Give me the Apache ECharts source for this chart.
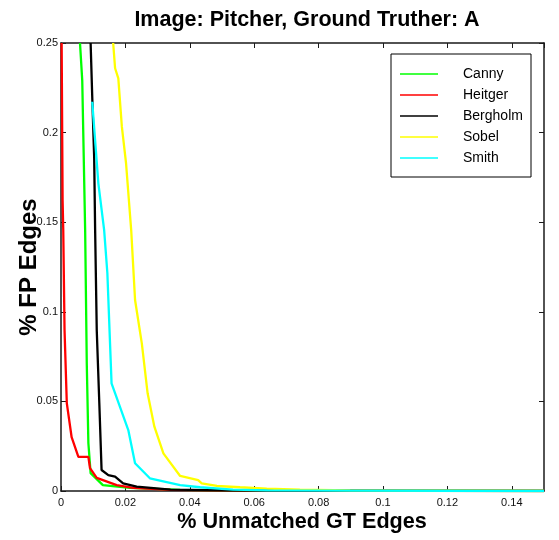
<!DOCTYPE html>
<html>
<head>
<meta charset="utf-8">
<script src="https://cdn.jsdelivr.net/npm/echarts@6/dist/echarts.min.js"></script>
<style>
  html, body { margin: 0; padding: 0; background: #fff; }
  #chart { width: 559px; height: 540px; }
</style>
</head>
<body>
<div id="chart"></div>
<script>
// Detector curves: [% unmatched GT edges, % false-positive edges]
const canny = [
  [0.0059, 0.25], [0.0066, 0.229], [0.0075, 0.1456], [0.0080, 0.0714],
  [0.0085, 0.0268], [0.0092, 0.010], [0.0130, 0.0033], [0.0214, 0.0017],
  [0.037, 0.0006], [0.06, 0.0002], [0.15, 0]
];
const heitger = [
  [0.0002, 0.25], [0.0005, 0.162], [0.0007, 0.1456], [0.0011, 0.0898],
  [0.0018, 0.049], [0.0033, 0.030], [0.0054, 0.019], [0.0085, 0.019],
  [0.0090, 0.0128], [0.0111, 0.0073], [0.0173, 0.0033], [0.0224, 0.0017],
  [0.034, 0.0006], [0.049, 0.0003], [0.15, 0]
];
const bergholm = [
  [0.0092, 0.25], [0.0097, 0.220], [0.0103, 0.1866], [0.0106, 0.1456],
  [0.0111, 0.0898], [0.0119, 0.049], [0.0126, 0.0117], [0.0147, 0.0089],
  [0.0168, 0.0080], [0.0193, 0.0043], [0.0235, 0.0024], [0.034, 0.0008],
  [0.052, 0.0003], [0.15, 0]
];
const sobel = [
  [0.0162, 0.25], [0.0168, 0.2359], [0.0178, 0.2303], [0.0189, 0.2033],
  [0.0202, 0.1829], [0.0218, 0.1456], [0.0230, 0.1066], [0.0251, 0.0824],
  [0.0269, 0.0545], [0.0290, 0.0359], [0.0318, 0.0210], [0.0370, 0.0084],
  [0.0426, 0.0061], [0.0437, 0.0043], [0.0484, 0.0028], [0.0556, 0.0021],
  [0.0639, 0.0013], [0.0742, 0.0008], [0.0898, 0.0004], [0.15, 0]
];
const smith = [
  [0.0097, 0.2172], [0.0116, 0.1717], [0.0134, 0.1456], [0.0144, 0.1215],
  [0.0157, 0.0601], [0.0209, 0.0340], [0.0230, 0.0155], [0.0276, 0.0071],
  [0.037, 0.0033], [0.0432, 0.0021], [0.0534, 0.0008], [0.0639, 0.0004],
  [0.15, 0]
];

const seriesNames = ['Canny', 'Heitger', 'Bergholm', 'Sobel', 'Smith'];
const seriesData = [canny, heitger, bergholm, sobel, smith];
const seriesColors = ['#00ff00', '#ff0000', '#000000', '#ffff00', '#00ffff'];

const titleText = 'Image: Pitcher, Ground Truther: A';
const xTitle = '% Unmatched GT Edges';
const yTitle = '% FP Edges';

const xMin = 0, xMax = 0.15, xStep = 0.02;
const yMin = 0, yMax = 0.25, yStep = 0.05;

const FONT = '"Liberation Sans", Arial, Helvetica, sans-serif';
const AXIS_COLOR = '#1a1a1a';

const chart = echarts.init(document.getElementById('chart'), null, { renderer: 'canvas' });

function axisBase(showLabel) {
  return {
    type: 'value',
    axisLine: { show: true, onZero: false, lineStyle: { color: AXIS_COLOR, width: 1.5 } },
    axisTick: { show: true, inside: true, length: 5, lineStyle: { color: AXIS_COLOR, width: 1 } },
    axisLabel: {
      show: showLabel, color: '#111', fontFamily: FONT, fontSize: 11,
      showMaxLabel: true
    },
    splitLine: { show: false }
  };
}

const xBottom = Object.assign(axisBase(true), {
  position: 'bottom', min: xMin, max: xMax, interval: xStep
});
xBottom.axisLabel.showMaxLabel = false;
xBottom.axisLabel.margin = 6;
const xTop = Object.assign(axisBase(false), {
  position: 'top', min: xMin, max: xMax, interval: xStep
});
const yLeft = Object.assign(axisBase(true), {
  position: 'left', min: yMin, max: yMax, interval: yStep
});
yLeft.axisLabel.margin = 3;
const yRight = Object.assign(axisBase(false), {
  position: 'right', min: yMin, max: yMax, interval: yStep
});

chart.setOption({
  backgroundColor: '#ffffff',
  animation: false,
  title: {
    text: titleText,
    left: 302,
    top: 4,
    textAlign: 'center',
    textStyle: { fontFamily: FONT, fontSize: 21.5, fontWeight: 'bold', color: '#000' }
  },
  grid: { left: 61, right: 15, top: 43, bottom: 49, containLabel: false },
  xAxis: [xBottom, xTop],
  yAxis: [yLeft, yRight],
  legend: {
    orient: 'vertical',
    left: 400,
    top: 66,
    itemWidth: 38,
    itemHeight: 1.5,
    itemGap: 5,
    icon: 'rect',
    padding: 0,
    textStyle: {
      fontFamily: FONT, fontSize: 14, color: '#000',
      lineHeight: 16, padding: [0, 0, 0, 20]
    },
    data: seriesNames
  },
  graphic: [
    {
      type: 'rect',
      shape: { x: 391, y: 54, width: 140, height: 123 },
      style: { fill: 'none', stroke: '#000', lineWidth: 1 },
      z: 0
    },
    {
      type: 'text',
      x: 302, y: 522,
      style: {
        text: xTitle, fontFamily: FONT, fontSize: 21.6, fontWeight: 'bold',
        fill: '#000', textAlign: 'center', textVerticalAlign: 'middle'
      }
    },
    {
      type: 'text',
      x: 29, y: 267,
      rotation: Math.PI / 2,
      style: {
        text: yTitle, fontFamily: FONT, fontSize: 24, fontWeight: 'bold',
        fill: '#000', textAlign: 'center', textVerticalAlign: 'middle'
      }
    }
  ],
  series: seriesNames.map((name, i) => ({
    name: name,
    type: 'line',
    xAxisIndex: 0,
    yAxisIndex: 0,
    data: seriesData[i],
    symbol: 'none',
    clip: true,
    lineStyle: { color: seriesColors[i], width: 2.3 },
    itemStyle: { color: seriesColors[i] }
  }))
});
</script>
</body>
</html>
